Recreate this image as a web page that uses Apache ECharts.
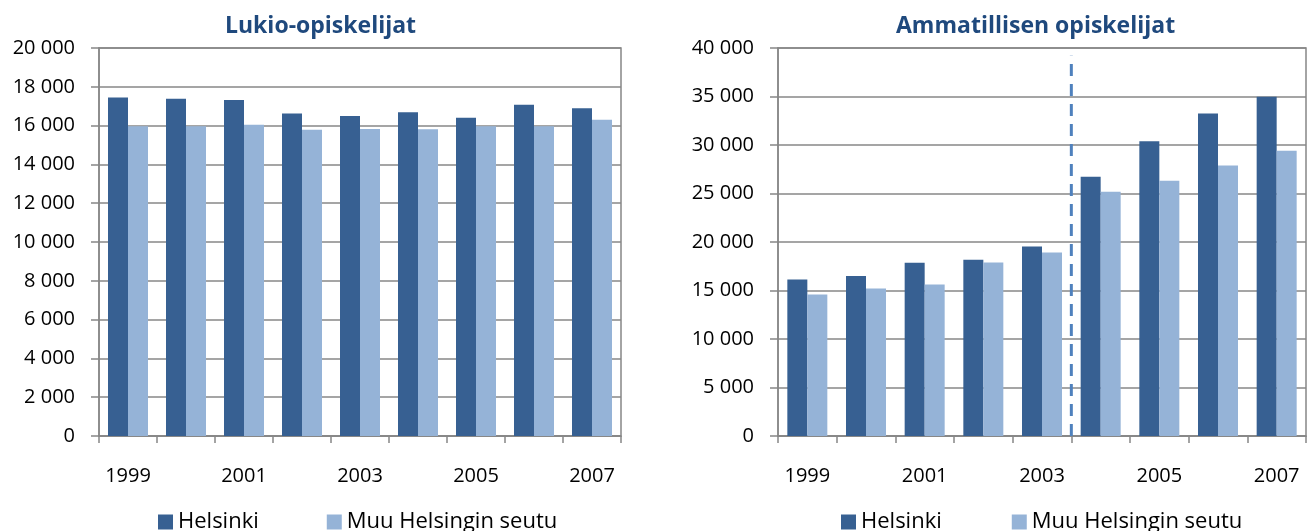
<!DOCTYPE html>
<html>
<head>
<meta charset="utf-8">
<script src="https://cdn.jsdelivr.net/npm/echarts@6/dist/echarts.min.js"></script>
<style>
  html, body { margin: 0; padding: 0; background: #fff; }
  #chart { width: 1312px; height: 531px; }
</style>
</head>
<body>
<div id="chart"></div>
<script>
const years = ['1999', '2000', '2001', '2002', '2003', '2004', '2005', '2006', '2007'];
const seriesNames = ['Helsinki', 'Muu Helsingin seutu'];

// Lukio-opiskelijat
const lukioHelsinki = [17450, 17390, 17320, 16620, 16500, 16690, 16410, 17080, 16890];
const lukioMuu = [15970, 15970, 16040, 15780, 15830, 15810, 15970, 15970, 16300];

// Ammatillisen opiskelijat
const ammHelsinki = [16140, 16490, 17850, 18170, 19530, 26730, 30390, 33260, 34970];
const ammMuu = [14600, 15200, 15620, 17890, 18930, 25190, 26310, 27880, 29420];

// katkoviiva vuosien 2003 ja 2004 välissä (kategoriarajalla 5)
const dividerAt = 5;

const darkBlue = '#376092';
const lightBlue = '#95b3d7';
const gridGrey = '#878787';
const font = '"Open Sans", Lato, sans-serif';

function fmt(v) {
  return String(v).replace(/\B(?=(\d{3})+(?!\d))/g, ' ');
}

function yAxis(idx, max, step) {
  return {
    type: 'value', gridIndex: idx, min: 0, max: max, interval: step,
    axisLine: { show: true, lineStyle: { color: gridGrey, width: 1.5 } },
    axisTick: { show: true, length: 8, lineStyle: { color: gridGrey, width: 1.5 } },
    splitLine: { lineStyle: { color: gridGrey, width: 1.5 } },
    axisLabel: { formatter: fmt, color: '#000', fontFamily: font, fontSize: 20, margin: 24 }
  };
}

function xAxis(idx) {
  return {
    type: 'category', gridIndex: idx, data: years,
    axisLine: { lineStyle: { color: gridGrey, width: 1.5 } },
    axisTick: { show: true, interval: 0, length: 7, lineStyle: { color: gridGrey, width: 1.5 } },
    axisLabel: { interval: 1, color: '#000', fontFamily: font, fontSize: 20, margin: 30 }
  };
}

function bars(name, color, data, idx) {
  return {
    name: name, type: 'bar', xAxisIndex: idx, yAxisIndex: idx, data: data,
    itemStyle: { color: color }, barWidth: 20, barGap: '0%', animation: false
  };
}

const titleStyle = { color: '#1f497d', fontFamily: font, fontSize: 23, fontWeight: 'bold' };
const legendText = { fontFamily: font, fontSize: 22, color: '#000' };

const chart = echarts.init(document.getElementById('chart'));
chart.setOption({
  animation: false,
  title: [
    { text: 'Lukio-opiskelijat', left: 220, top: 10, textStyle: titleStyle },
    { text: 'Ammatillisen opiskelijat', left: 891, top: 10, textStyle: titleStyle }
  ],
  legend: [
    { data: seriesNames, left: 153, top: 506, itemWidth: 15, itemHeight: 15, itemGap: 68,
      icon: 'rect', textStyle: legendText, selectedMode: false },
    { data: seriesNames, left: 836, top: 506, itemWidth: 15, itemHeight: 15, itemGap: 70,
      icon: 'rect', textStyle: legendText, selectedMode: false }
  ],
  grid: [
    { left: 99, right: 691, top: 48, bottom: 95, show: true, borderColor: gridGrey, borderWidth: 1.5 },
    { left: 778, right: 6, top: 48, bottom: 95, show: true, borderColor: gridGrey, borderWidth: 1.5 }
  ],
  xAxis: [
    xAxis(0),
    xAxis(1),
    { type: 'value', gridIndex: 1, min: 0, max: years.length, show: false }
  ],
  yAxis: [
    yAxis(0, 20000, 2000),
    yAxis(1, 40000, 5000)
  ],
  series: [
    bars(seriesNames[0], darkBlue, lukioHelsinki, 0),
    bars(seriesNames[1], lightBlue, lukioMuu, 0),
    bars(seriesNames[0], darkBlue, ammHelsinki, 1),
    bars(seriesNames[1], lightBlue, ammMuu, 1),
    {
      type: 'line', xAxisIndex: 2, yAxisIndex: 1, symbol: 'none', silent: true,
      data: [[dividerAt, 0], [dividerAt, 39200]],
      lineStyle: { color: '#4f81bd', width: 3, type: [12, 8] }, z: 5
    }
  ]
});
</script>
</body>
</html>
